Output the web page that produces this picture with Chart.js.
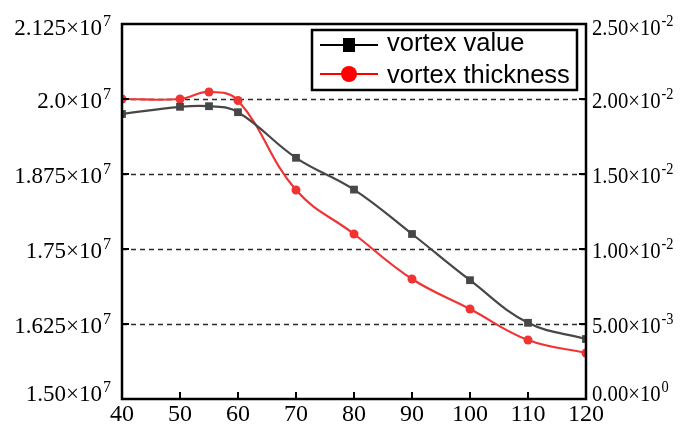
<!DOCTYPE html>
<html lang="en">
<head>
<meta charset="UTF-8">
<title>Vortex value and vortex thickness</title>
<style>
  html, body { margin: 0; padding: 0; background: #fff; }
  #wrap { width: 681px; height: 430px; }
</style>
</head>
<body>
<div id="wrap"><canvas id="vortex-chart" width="681" height="430"></canvas></div>
<script src="https://cdn.jsdelivr.net/npm/chart.js"></script>
<script>
// sample positions along the x axis
const xValues = [40, 50, 55, 60, 70, 80, 90, 100, 110, 120];
// vortex value (left axis)
const vortexValue = [1.975e7, 1.987e7, 1.988e7, 1.978e7, 1.902e7, 1.849e7, 1.775e7, 1.698e7, 1.627e7, 1.600e7];
// vortex thickness (right axis)
const vortexThickness = [0.0200, 0.0200, 0.02047, 0.0199, 0.01393, 0.0110, 0.0080, 0.0060, 0.00393, 0.00307];

const seriesNames = ['vortex value', 'vortex thickness'];

// tick values and their mantissa / exponent text
const xTicks = [40, 50, 60, 70, 80, 90, 100, 110, 120];
const leftTicks = [1.5e7, 1.625e7, 1.75e7, 1.875e7, 2.0e7, 2.125e7];
const leftMantissa = ['1.50', '1.625', '1.75', '1.875', '2.0', '2.125'];
const leftExponent = ['7', '7', '7', '7', '7', '7'];
const rightTicks = [0, 0.005, 0.010, 0.015, 0.020, 0.025];
const rightMantissa = ['0.00', '5.00', '1.00', '1.50', '2.00', '2.50'];
const rightExponent = ['0', '-3', '-2', '-2', '-2', '-2'];

const darkColor = '#474747';
const redColor = '#ef3434';
const serif = '"Liberation Serif", "Times New Roman", serif';

// draws "m×10^e" with a raised exponent
function drawSci(ctx, mant, exp, x, y, align, size, expSize, squeeze) {
    const base = mant + '\u00d710';
    ctx.font = size + 'px ' + serif;
    const mw = ctx.measureText(base).width;
    ctx.font = expSize + 'px ' + serif;
    const ew = ctx.measureText(exp).width;
    const total = (mw + ew + 1) * squeeze;
    const startX = align === 'right' ? x - total : x;
    ctx.save();
    ctx.translate(startX, y);
    ctx.scale(squeeze, 1);
    ctx.textAlign = 'left';
    ctx.textBaseline = 'alphabetic';
    ctx.font = size + 'px ' + serif;
    ctx.fillText(base, 0, size * 0.33);
    ctx.font = expSize + 'px ' + serif;
    ctx.fillText(exp, mw + 1, size * 0.33 - 9);
    ctx.restore();
}

const framePlugin = {
    id: 'framePlugin',
    beforeDatasetsDraw(chart) {
        const { ctx, chartArea: a, scales } = chart;
        // dashed horizontal grid at the inner ticks
        ctx.save();
        ctx.strokeStyle = '#2a2a2a';
        ctx.lineWidth = 1.4;
        ctx.setLineDash([5, 4]);
        leftTicks.slice(1, -1).forEach(v => {
            const y = Math.round(scales.y.getPixelForValue(v)) + 0.5;
            ctx.beginPath();
            ctx.moveTo(a.left, y);
            ctx.lineTo(a.right, y);
            ctx.stroke();
        });
        ctx.restore();
    },
    afterDatasetsDraw(chart) {
        const { ctx, chartArea: a, scales } = chart;
        ctx.save();
        ctx.strokeStyle = '#000';
        ctx.fillStyle = '#000';

        // plot frame
        ctx.lineWidth = 2.5;
        ctx.strokeRect(a.left, a.top, a.right - a.left, a.bottom - a.top);

        // inward tick marks
        ctx.lineWidth = 2;
        ctx.beginPath();
        xTicks.forEach(v => {
            const x = scales.x.getPixelForValue(v);
            ctx.moveTo(x, a.bottom);
            ctx.lineTo(x, a.bottom - 7);
        });
        leftTicks.forEach(v => {
            const y = scales.y.getPixelForValue(v);
            ctx.moveTo(a.left, y);
            ctx.lineTo(a.left + 7, y);
        });
        rightTicks.forEach(v => {
            const y = scales.y1.getPixelForValue(v);
            ctx.moveTo(a.right, y);
            ctx.lineTo(a.right - 7, y);
        });
        ctx.stroke();

        // x tick labels
        ctx.font = '24px ' + serif;
        ctx.textAlign = 'center';
        ctx.textBaseline = 'alphabetic';
        xTicks.forEach(v => {
            ctx.fillText(String(v), scales.x.getPixelForValue(v), 421);
        });

        // left tick labels
        leftTicks.forEach((v, i) => {
            let y = scales.y.getPixelForValue(v) + 1;
            if (i === 0) y -= 7;
            if (i === leftTicks.length - 1) y += 2;
            drawSci(ctx, leftMantissa[i], leftExponent[i], 111, y, 'right', 23, 16, 1);
        });

        // right tick labels
        rightTicks.forEach((v, i) => {
            let y = scales.y1.getPixelForValue(v) + 1;
            if (i === 0) y -= 7;
            if (i === rightTicks.length - 1) y += 2;
            drawSci(ctx, rightMantissa[i], rightExponent[i], 592, y, 'left', 23, 16, 0.9);
        });

        // legend box
        const lx = 312, ly = 30, lw = 265, lh = 60;
        ctx.fillStyle = '#fff';
        ctx.fillRect(lx, ly, lw, lh);
        ctx.lineWidth = 2.5;
        ctx.strokeRect(lx, ly, lw, lh);

        const rows = [
            { y: 45, color: '#000', shape: 'rect', name: seriesNames[0] },
            { y: 74, color: '#ff0000', shape: 'circle', name: seriesNames[1] }
        ];
        rows.forEach(r => {
            ctx.strokeStyle = r.color;
            ctx.fillStyle = r.color;
            ctx.lineWidth = 2;
            ctx.beginPath();
            ctx.moveTo(320, r.y);
            ctx.lineTo(378, r.y);
            ctx.stroke();
            ctx.beginPath();
            if (r.shape === 'rect') {
                ctx.rect(343, r.y - 7, 12, 14);
            } else {
                ctx.arc(349, r.y, 8, 0, Math.PI * 2);
            }
            ctx.fill();
        });
        ctx.fillStyle = '#000';
        ctx.font = '25.5px "Liberation Sans", Arial, sans-serif';
        ctx.textAlign = 'left';
        ctx.fillText(rows[0].name, 387, 51);
        ctx.fillText(rows[1].name, 387, 83);

        ctx.restore();
    }
};

const ctx = document.getElementById('vortex-chart').getContext('2d');
new Chart(ctx, {
    type: 'line',
    data: {
        datasets: [
            {
                label: seriesNames[0],
                data: xValues.map((x, i) => ({ x: x, y: vortexValue[i] })),
                yAxisID: 'y',
                borderColor: darkColor,
                backgroundColor: darkColor,
                borderWidth: 2.2,
                pointStyle: 'rect',
                pointRadius: 5.5,
                pointBorderWidth: 0,
                tension: 0.4,
                clip: 0
            },
            {
                label: seriesNames[1],
                data: xValues.map((x, i) => ({ x: x, y: vortexThickness[i] })),
                yAxisID: 'y1',
                borderColor: redColor,
                backgroundColor: redColor,
                borderWidth: 2.2,
                pointStyle: 'circle',
                pointRadius: 4.5,
                pointBorderWidth: 0,
                tension: 0.4,
                clip: 0
            }
        ]
    },
    options: {
        responsive: false,
        animation: false,
        devicePixelRatio: 1,
        layout: { padding: { top: 24, left: 0, right: 0, bottom: 0 } },
        plugins: {
            legend: { display: false },
            tooltip: { enabled: false }
        },
        scales: {
            x: {
                type: 'linear',
                min: 40,
                max: 120,
                ticks: { display: false, stepSize: 10 },
                grid: { display: false },
                border: { display: false },
                afterFit: s => { s.height = 31; }
            },
            y: {
                position: 'left',
                min: 1.5e7,
                max: 2.125e7,
                ticks: { display: false, stepSize: 0.125e7 },
                grid: { display: false },
                border: { display: false },
                afterFit: s => { s.width = 122; }
            },
            y1: {
                position: 'right',
                min: 0,
                max: 0.025,
                ticks: { display: false, stepSize: 0.005 },
                grid: { display: false },
                border: { display: false },
                afterFit: s => { s.width = 95; }
            }
        }
    },
    plugins: [framePlugin]
});
</script>
</body>
</html>
